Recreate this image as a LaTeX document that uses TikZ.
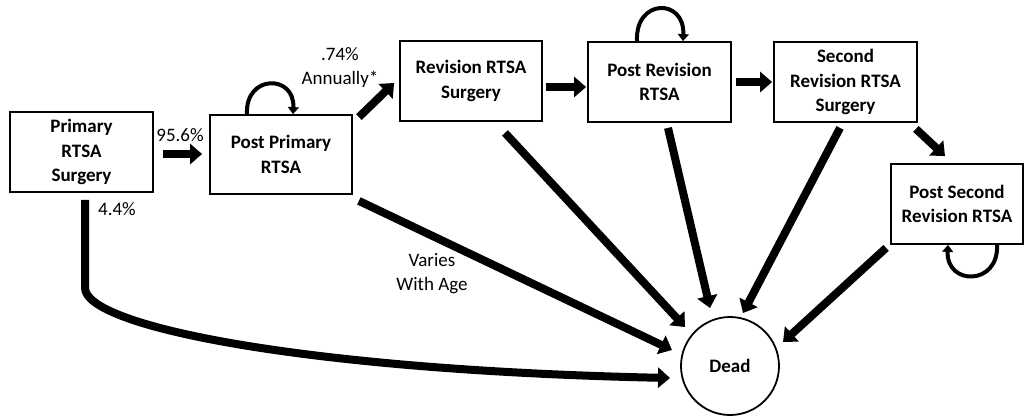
\documentclass[tikz,border=0pt]{standalone}
\usepackage{fontspec}
\setmainfont{Carlito}
\usetikzlibrary{arrows.meta}
\begin{document}
\begin{tikzpicture}[x=1pt,y=-1pt,
  box/.style={draw,line width=1.8pt,minimum width=143pt,minimum height=80pt,align=center,
    font=\fontsize{19}{24.5}\selectfont\bfseries,inner sep=0pt},
  lbl/.style={align=center,font=\fontsize{19}{24}\selectfont,inner sep=0pt},
  flow/.style={line width=8pt,-{Triangle[width=20pt,length=12pt]}},
  selfloop/.style={line width=4pt,-{Triangle[width=11pt,length=7pt]}}]
\useasboundingbox (0,0) rectangle (1025,416);
\node[box] (p1) at (81.5,152) {Primary\\RTSA\\Surgery};
\node[box,minimum width=142pt,minimum height=79pt] (p2) at (281,154.5) {Post Primary\\RTSA};
\node[box,minimum width=142pt] (r1) at (471,81) {Revision RTSA\\Surgery};
\node[box] (p3) at (659.5,82) {Post Revision\\RTSA};
\node[box] (r2) at (845.5,82) {Second\\Revision RTSA\\Surgery};
\node[box,minimum width=132pt] (p4) at (957,204) {Post Second\\Revision RTSA};
\node[draw,circle,line width=1.8pt,minimum size=98pt,inner sep=0pt,
  font=\fontsize{19}{24}\selectfont\bfseries] (dead) at (730,366) {Dead};

\node[lbl] (l1) at (180,135) {95.6\%};
\node[lbl] (l2) at (117,209) {4.4\%};
\node[lbl] (l3) at (340,68) {.74\%\\Annually*};
\node[lbl] (l4) at (432,274) {Varies\\With Age};

\draw[flow] ([shift={(9,2)}]p1.east) -- ([shift={(-7,-0.5)}]p2.west);
\draw[flow] ([shift={(3.5,7)}]p1.south) -- ++(0,88)
   .. controls +(0,38) and (300,370) .. ([shift={(-60,12)}]dead.center);
\draw[flow] ([shift={(6,3)}]p2.north east) -- ([shift={(-5,2)}]r1.west);
\draw[flow] ([shift={(6,6)}]p2.south east) -- ([shift={(-58,-16)}]dead.center);
\draw[flow] ([shift={(34,11)}]r1.south) -- ([shift={(-45,-39)}]dead.center);
\draw[flow] ([shift={(3,6)}]r1.east) -- ([shift={(-1,5)}]p3.west);
\draw[flow] ([shift={(8.5,5)}]p3.south) -- ([shift={(-20,-58)}]dead.center);
\draw[flow] ([shift={(4,0)}]p3.east) -- ([shift={(-1,0)}]r2.west);
\draw[flow] ([shift={(-5.5,5)}]r2.south) -- ([shift={(13,-53)}]dead.center);
\draw[flow] ([shift={(-2,6)}]r2.south east) -- ([shift={(-12,-7)}]p4.north);
\draw[flow] ([shift={(-4,3)}]p4.south west) -- ([shift={(53,-24)}]dead.center);

\draw[selfloop] ([shift={(-34,0)}]p2.north) .. controls +(-2,-40) and +(2,-40) .. ([shift={(12,0)}]p2.north);
\draw[selfloop] ([shift={(-22.5,0)}]p3.north) .. controls +(-2,-43) and +(2,-43) .. ([shift={(23.5,0)}]p3.north);
\draw[selfloop] ([shift={(40,0)}]p4.south) .. controls +(2,41) and +(-2,41) .. ([shift={(-9,0)}]p4.south);
\end{tikzpicture}
\end{document}
